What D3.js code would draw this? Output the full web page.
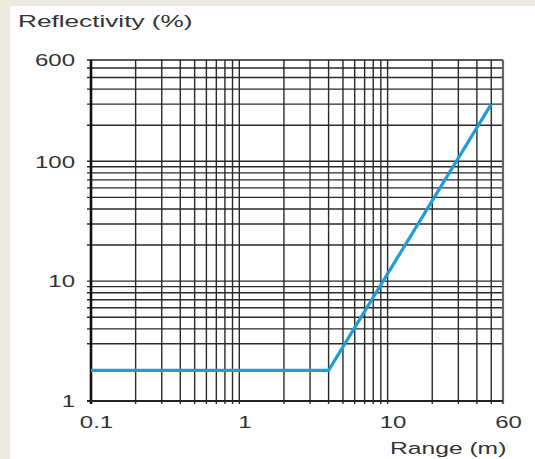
<!DOCTYPE html>
<html>
<head>
<meta charset="utf-8">
<script src="https://cdn.jsdelivr.net/npm/d3@7"></script>
<style>
  html, body { margin: 0; padding: 0; background: #ece9df; }
  svg { display: block; }
  text { font-family: "Liberation Sans", Arial, sans-serif; fill: #333333; }
</style>
</head>
<body>
<svg id="chart" width="535" height="459"></svg>
<script>
// ---- data ----
const lineX = [0.1, 4, 50];
const lineY = [1.8, 1.8, 300];

const xGridValues = [0.1, 0.2, 0.3, 0.4, 0.5, 0.6, 0.7, 0.8, 0.9,
                     1, 2, 3, 4, 5, 6, 7, 8, 9,
                     10, 20, 30, 40, 50];
const yGridValues = [1, 3, 4, 5, 6, 7, 8, 9,
                     10, 20, 30, 40, 50, 60, 70, 80, 90,
                     100, 200, 300, 400, 500, 600];

const xTickValues = [0.1, 1, 10, 60];
const xTickLabels = ["0.1", "1", "10", "60"];
const yTickValues = [1, 10, 100, 700];
const yTickLabels = ["1", "10", "100", "600"];

const yTitle = "Reflectivity (%)";
const xTitle = "Range (m)";

// ---- layout ----
(function () {
const svg = d3.select("#chart");
const pL = 91, pR = 503, pT = 60, pB = 401;
const x = d3.scaleLog().domain([0.1, 60]).range([pL, pR]);
const y = d3.scaleLog().domain([1, 700]).range([pB, pT]);
const stretch = "scale(1.5,1)";

// white panel
svg.append("rect").attr("x", 10).attr("y", 6).attr("width", 525).attr("height", 453).attr("fill", "#ffffff");

const grid = svg.append("g");
grid.selectAll("line.v").data(xGridValues).join("line")
  .attr("class", "v")
  .attr("x1", d => x(d)).attr("x2", d => x(d))
  .attr("y1", pT).attr("y2", pB + 3)
  .attr("stroke", "#2a2a2a").attr("stroke-width", 1.4);
grid.selectAll("line.h").data(yGridValues).join("line")
  .attr("class", "h")
  .attr("x1", pL - 4).attr("x2", pR)
  .attr("y1", d => y(d)).attr("y2", d => y(d))
  .attr("stroke", "#2a2a2a").attr("stroke-width", 1.4);

// frame
grid.append("line").attr("x1", pL - 4).attr("x2", pR).attr("y1", y(700)).attr("y2", y(700))
  .attr("stroke", "#222").attr("stroke-width", 1.6);
grid.append("line").attr("x1", x(60)).attr("x2", x(60)).attr("y1", pT).attr("y2", pB + 3)
  .attr("stroke", "#666").attr("stroke-width", 2.2);
grid.append("line").attr("x1", pL).attr("x2", pL).attr("y1", pT).attr("y2", pB + 3)
  .attr("stroke", "#111").attr("stroke-width", 2.6);
grid.append("line").attr("x1", pL - 4).attr("x2", pR).attr("y1", pB).attr("y2", pB)
  .attr("stroke", "#222").attr("stroke-width", 1.8);

// curve
const line = d3.line().x(d => x(d[0])).y(d => y(d[1]));
svg.append("path")
  .datum(lineX.map((d, i) => [d, lineY[i]]))
  .attr("d", line)
  .attr("fill", "none")
  .attr("stroke", "#1e9dd8")
  .attr("stroke-width", 3.2)
  .attr("stroke-linejoin", "miter");

// axes (labels only)
const xAxis = d3.axisBottom(x).tickValues(xTickValues)
  .tickFormat((d, i) => xTickLabels[i]).tickSize(0);
const gx = svg.append("g").attr("transform", `translate(0,${pB})`).call(xAxis);
gx.select(".domain").remove();
gx.selectAll("text")
  .attr("y", 27).attr("dy", null)
  .attr("transform", "translate(5,0) " + stretch)
  .style("font-size", "16px").style("font-family", "'Liberation Sans', Arial, sans-serif")
  .attr("fill", "#333333");

const yAxis = d3.axisLeft(y).tickValues(yTickValues)
  .tickFormat((d, i) => yTickLabels[i]).tickSize(0);
const gy = svg.append("g").attr("transform", `translate(${pL},0)`).call(yAxis);
gy.select(".domain").remove();
gy.selectAll("text")
  .attr("x", 0).attr("dy", "0.36em")
  .attr("text-anchor", "end")
  .attr("transform", "translate(-16,0) " + stretch)
  .style("font-size", "16px").style("font-family", "'Liberation Sans', Arial, sans-serif")
  .attr("fill", "#333333");

// titles
svg.append("text").text(yTitle)
  .attr("transform", "translate(18,27) scale(1.54,1)")
  .style("font-size", "17px");
svg.append("text").text(xTitle)
  .attr("transform", "translate(390,454) scale(1.45,1)")
  .style("font-size", "17px");
})();
</script>
</body>
</html>
